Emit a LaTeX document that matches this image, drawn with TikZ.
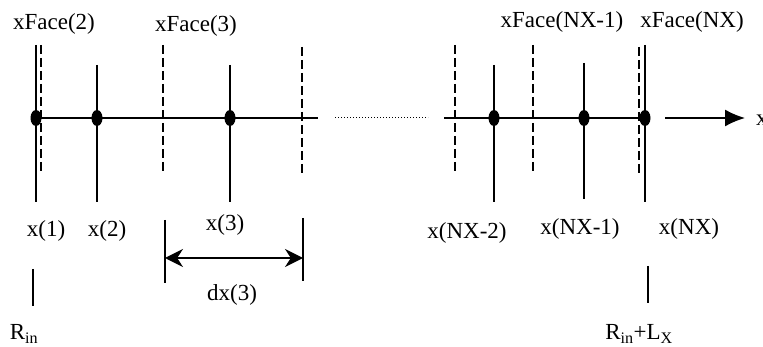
\documentclass[tikz,border=0pt]{standalone}
\usepackage{fontspec}
\setmainfont{Liberation Serif}
\usetikzlibrary{arrows.meta,shapes.geometric}
\begin{document}
\begin{tikzpicture}[x=1pt,y=-1pt,
  solidline/.style={line width=1.6pt},
  dashline/.style={line width=1.5pt, dash pattern=on 9pt off 4pt},
  dotline/.style={line width=0.8pt, dash pattern=on 1pt off 2pt},
  dotnode/.style={ellipse, fill=black, minimum width=11pt, minimum height=16pt, inner sep=0pt},
  lbl/.style={font=\fontsize{23}{27}\selectfont, inner sep=0pt, anchor=base}]
\useasboundingbox (0,0) rectangle (763,347);
% axes
\coordinate (axL0) at (36,118);
\coordinate (axL1) at (318,118);
\coordinate (axR0) at (444,118);
\coordinate (axR1) at (645,118);
\coordinate (dt0) at (335,117);
\coordinate (dt1) at (428,117);
\draw[solidline] (axL0) -- (axL1);
\draw[solidline] (axR0) -- (axR1);
\draw[dotline] (dt0) -- (dt1);
% solid cell lines
\foreach \n/\x/\a/\b in {s1/36/45/202, s2/97/65/202, s3/230/65/202, s4/494/65/202, s5/584/63/199, s6/645/45/202}{
  \coordinate (\n t) at (\x,\a);
  \coordinate (\n b) at (\x,\b);
  \draw[solidline] (\n t) -- (\n b);
}
% dashed face lines
\foreach \n/\x/\a/\b in {f1/41/45/173, f2/163/45/172, f3/302/47/175, f4/455/45/172, f5/533/45/172, f6/639/47/175}{
  \coordinate (\n t) at (\x,\a);
  \coordinate (\n b) at (\x,\b);
  \draw[dashline] (\n t) -- (\n b);
}
% dots
\foreach \n/\x in {d1/36, d2/97, d3/230, d4/494, d5/584, d6/645}{
  \node[dotnode] (\n) at (\x,118) {};
}
% x axis arrow
\coordinate (xa0) at (665,118);
\coordinate (xa1) at (745,118);
\draw[solidline,-{Latex[length=20pt,width=17pt]}] (xa0) -- (xa1);
\node[lbl, anchor=base west] (xlab) at (756,126) {x};
% dimension dx(3)
\coordinate (dm1t) at (165,220); \coordinate (dm1b) at (165,283);
\coordinate (dm2t) at (303,218); \coordinate (dm2b) at (303,281);
\draw[solidline] (dm1t) -- (dm1b);
\draw[solidline] (dm2t) -- (dm2b);
\coordinate (da0) at (165,258);
\coordinate (da1) at (303,258);
\draw[solidline,{Stealth[length=18pt,width=18pt]}-{Stealth[length=18pt,width=18pt]}] (da0) -- (da1);
% ticks
\coordinate (tk1t) at (33,269); \coordinate (tk1b) at (33,306);
\coordinate (tk2t) at (648,266); \coordinate (tk2b) at (648,303);
\draw[solidline] (tk1t) -- (tk1b);
\draw[solidline] (tk2t) -- (tk2b);
% labels
\node[lbl] (lf2) at (54,30) {xFace(2)};
\node[lbl] (lf3) at (196,32) {xFace(3)};
\node[lbl] (lfn1) at (562,28) {xFace(NX-1)};
\node[lbl] (lfn) at (692,28) {xFace(NX)};
\node[lbl] (lx1) at (46,237) {x(1)};
\node[lbl] (lx2) at (107,237) {x(2)};
\node[lbl] (lx3) at (225,231) {x(3)};
\node[lbl] (ldx) at (232,301) {dx(3)};
\node[lbl] (lxn2) at (467,239) {x(NX-2)};
\node[lbl] (lxn1) at (580,235) {x(NX-1)};
\node[lbl] (lxn) at (689,235) {x(NX)};
\node[lbl] (lrin) at (24,340) {R\textsubscript{in}};
\node[lbl] (lrl) at (639,340) {R\textsubscript{in}+L\textsubscript{X}};
\end{tikzpicture}
\end{document}
